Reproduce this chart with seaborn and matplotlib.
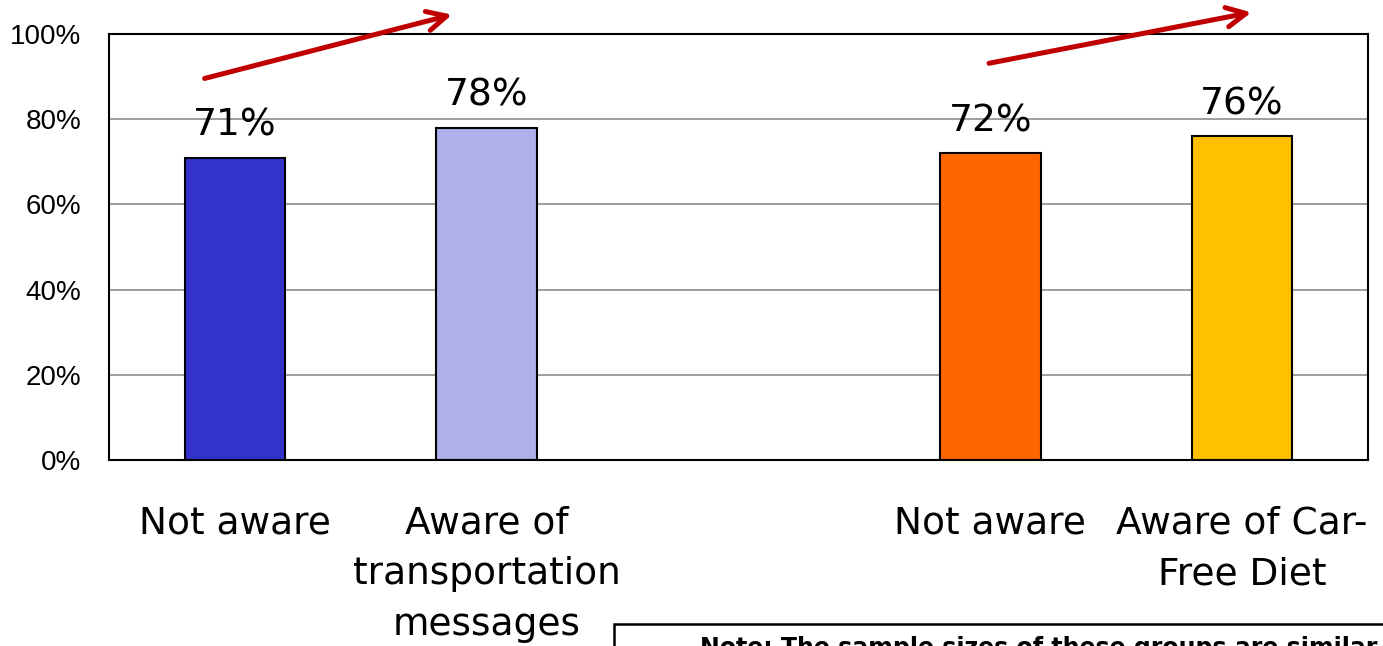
import numpy as np
import pandas as pd
import matplotlib
matplotlib.use("Agg")
import matplotlib.pyplot as plt
from matplotlib.patches import Rectangle
import seaborn as sns

# data
keys = ["trans_not", "trans_aware", "gap", "cfd_not", "cfd_aware"]
tick_labels = ["Not aware", "Aware of\ntransportation\nmessages", "",
               "Not aware", "Aware of Car-\nFree Diet"]
bar_keys = ["trans_not", "trans_aware", "cfd_not", "cfd_aware"]
values = [71, 78, 72, 76]
colors = ["#3333CC", "#AFAFEB", "#FF6600", "#FFC000"]
note_text = "Note: The sample sizes of these groups are similar and li"

df = pd.DataFrame({"key": bar_keys, "pct": values})

sns.set_style("white")
plt.rcParams["text.color"] = "black"
plt.rcParams["xtick.color"] = "black"
plt.rcParams["ytick.color"] = "black"
cat_font = ["DejaVu Sans Condensed", "DejaVu Sans"]

fig = plt.figure(figsize=(13.83, 6.46), dpi=100)
ax = fig.add_axes([109 / 1383, 186 / 646, 1259 / 1383, 426 / 646])

sns.barplot(data=df, x="key", y="pct", hue="key", order=keys,
            palette=dict(zip(bar_keys, colors)), saturation=1, width=0.4,
            edgecolor="black", linewidth=1.5, legend=False, ax=ax)

ax.set_xlim(-0.5, 4.5)
ax.set_ylim(0, 100)
ax.set_xlabel("")
ax.set_ylabel("")

# y axis
ax.set_yticks(np.arange(0, 101, 20))
ax.set_yticklabels([f"{v}%" for v in range(0, 101, 20)],
                   fontfamily="Liberation Sans", fontsize=20)
ax.tick_params(axis="y", length=0, pad=20, labelcolor="black")
for v in range(20, 100, 20):
    ax.axhline(v, color="#8C8C8C", lw=1.2, zorder=0)

# x axis: boundary ticks, labels on minor ticks
ax.set_xticks(np.arange(-0.5, 5, 1))
ax.set_xticklabels([])
ax.tick_params(axis="x", which="major", length=9, width=1.5, color="black")
ax.set_xticks(range(5), minor=True)
ax.set_xticklabels(tick_labels, minor=True, fontfamily=cat_font,
                   fontsize=27, linespacing=1.52)
ax.tick_params(axis="x", which="minor", length=0, pad=33, labelcolor="black")

for s in ax.spines.values():
    s.set_color("black")
    s.set_linewidth(1.5)

# value labels
for k, v in zip(bar_keys, values):
    ax.annotate(f"{v}%", (keys.index(k), v), xytext=(0, 10),
                textcoords="offset points", ha="center", va="bottom",
                fontfamily=cat_font, fontsize=27, color="black")

# trend arrows
arrow_kw = dict(arrowstyle="->,head_length=0.7,head_width=0.35",
                color="#C00000", lw=3.6, mutation_scale=20)
ax.annotate("", xy=(0.873, 104.7), xytext=(-0.131, 89.4),
            arrowprops=arrow_kw, annotation_clip=False)
ax.annotate("", xy=(4.048, 105.2), xytext=(2.984, 93.0),
            arrowprops=arrow_kw, annotation_clip=False)

# note box, cut off at the bottom edge like the source slide
fig.patches.append(Rectangle((614 / 1383, -0.2), 0.6, 0.2 + 22 / 646,
                             transform=fig.transFigure, facecolor="white",
                             edgecolor="black", lw=1.8))
fig.text(700 / 1383, 10 / 646, note_text, fontsize=17, fontweight="bold",
         fontfamily="DejaVu Sans", va="top", ha="left", color="black")

fig.savefig("out.png", dpi=100)
